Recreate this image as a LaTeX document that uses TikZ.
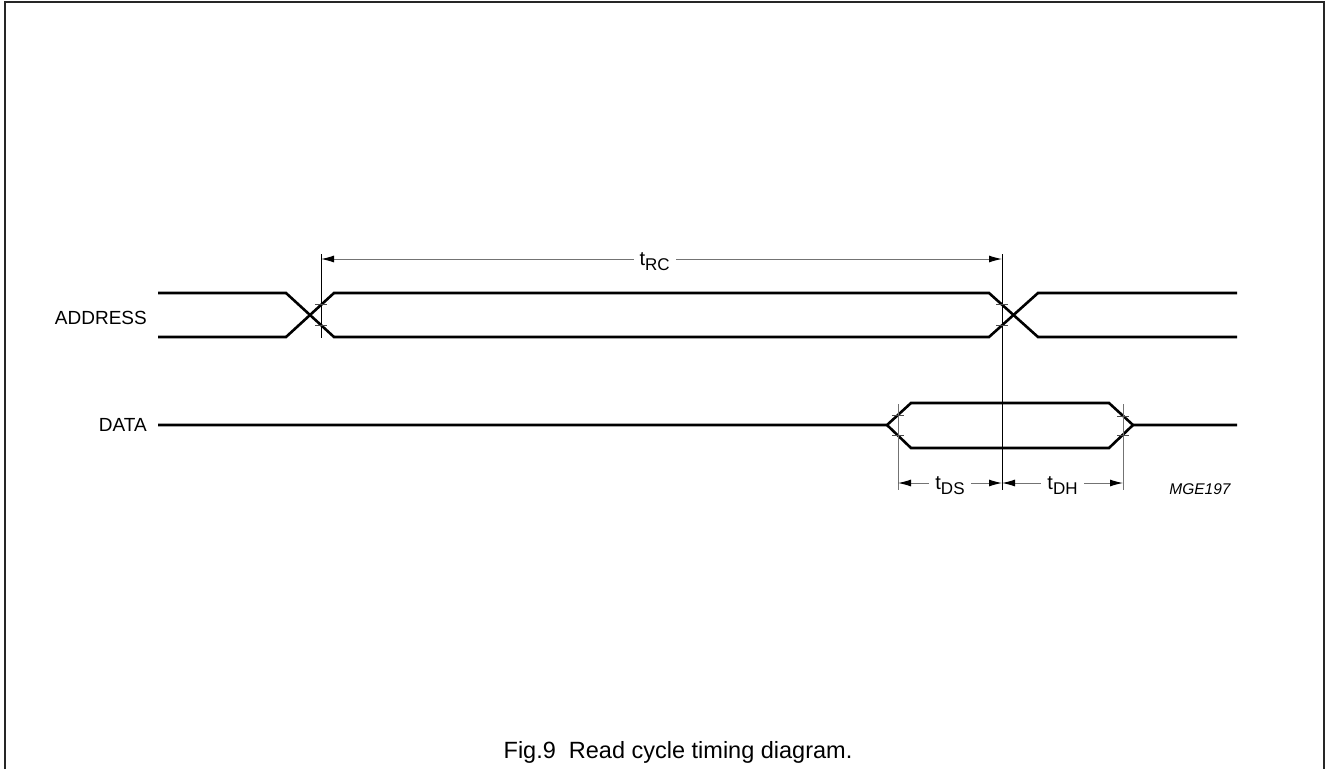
\documentclass[tikz,border=0pt]{standalone}
\usepackage{fontspec}
\setmainfont{Liberation Sans}
\usetikzlibrary{arrows.meta}
\newcommand{\tsubx}[1]{t\raisebox{-0.45ex}{\fontsize{17}{17}\selectfont #1}}
\begin{document}
\begin{tikzpicture}[x=1pt,y=-1pt,
  sig/.style={line width=2.6pt,black},
  refl/.style={line width=1pt,black},
  refg/.style={line width=1pt,black!55},
  tickm/.style={line width=0.8pt,black!70},
  dim/.style={line width=1pt,black!55,{Latex[length=13pt,width=7pt,color=black]}-{Latex[length=13pt,width=7pt,color=black]}},
  lbl/.style={font=\fontsize{19}{21}\selectfont,inner sep=0pt},
  dlbl/.style={font=\fontsize{20}{22}\selectfont,text=black,fill=white,inner xsep=6pt,inner ysep=3pt,text depth=0pt}]
\useasboundingbox (0,0) rectangle (1326,769);
% frame
\draw[line width=2.5pt,black!85] (5,769) -- (5,2) -- (1324,2) -- (1324,769);
% address coordinates
\coordinate (a0t) at (158,293); \coordinate (a0b) at (158,337);
\coordinate (x1tl) at (286,293); \coordinate (x1bl) at (286,337);
\coordinate (x1tr) at (334,293); \coordinate (x1br) at (334,337);
\coordinate (x2tl) at (989,293); \coordinate (x2bl) at (989,337);
\coordinate (x2tr) at (1038,293); \coordinate (x2br) at (1038,337);
\coordinate (aet) at (1237,293); \coordinate (aeb) at (1237,337);
\draw[sig] (a0t) -- (x1tl) -- (x1br) -- (x2bl) -- (x2tr) -- (aet);
\draw[sig] (a0b) -- (x1bl) -- (x1tr) -- (x2tl) -- (x2br) -- (aeb);
% data coordinates
\coordinate (d0) at (158,425); \coordinate (ds) at (887,425);
\coordinate (dtl) at (911,403); \coordinate (dbl) at (911,448);
\coordinate (dtr) at (1109,403); \coordinate (dbr) at (1109,448);
\coordinate (de) at (1133,425); \coordinate (dend) at (1237,425);
\draw[sig] (d0) -- (ds) -- (dtl) -- (dtr) -- (de) -- (dend);
\draw[sig] (ds) -- (dbl) -- (dbr) -- (de);
% reference lines
\coordinate (v1t) at (321,254); \coordinate (v1b) at (321,338);
\coordinate (v2t) at (1002,254); \coordinate (v2b) at (1002,490);
\coordinate (v3t) at (898,404); \coordinate (v3b) at (898,490);
\coordinate (v4t) at (1123,404); \coordinate (v4b) at (1123,490);
\draw[refl] (v1t) -- (v1b);
\draw[refl] (v2t) -- (v2b);
\draw[refg] (v3t) -- (v3b);
\draw[refg] (v4t) -- (v4b);
% ticks
\foreach \x/\ya/\yb in {321/304/325, 1002/304/325, 898/415/435, 1123/416/435}{
  \draw[tickm] (\x-6,\ya) -- (\x+6,\ya);
  \draw[tickm] (\x-6,\yb) -- (\x+6,\yb);
}
% dimension arrows
\coordinate (r1) at (321,259); \coordinate (r2) at (1002,259);
\coordinate (s1) at (898,483); \coordinate (s2) at (1002,483); \coordinate (s3) at (1123,483);
\draw[dim] (r1) -- (r2) node[dlbl,pos=0.49] (trc) {\tsubx{RC}};
\draw[dim] (s1) -- (s2) node[dlbl,midway] (tds) {\tsubx{DS}};
\draw[dim] (s2) -- (s3) node[dlbl,midway] (tdh) {\tsubx{DH}};
% labels
\node[lbl,anchor=east] (addr) at (147,318) {ADDRESS};
\node[lbl,anchor=east] (data) at (147,425) {DATA};
\node[font=\fontsize{15.5}{17}\selectfont\itshape,inner sep=0pt] (code) at (1200,489) {MGE197};
\node[font=\fontsize{23.5}{26}\selectfont,inner sep=0pt] (cap) at (678,752) {Fig.9\ \ Read cycle timing diagram.};
\end{tikzpicture}
\end{document}
